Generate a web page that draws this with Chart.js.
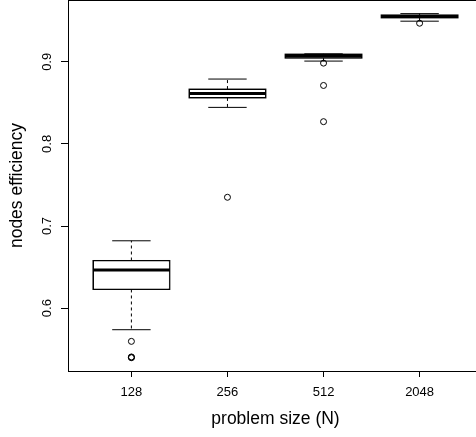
<!DOCTYPE html>
<html>
<head>
<meta charset="utf-8">
<script src="https://cdn.jsdelivr.net/npm/chart.js@4/dist/chart.umd.min.js"></script>
<style>
html,body{margin:0;padding:0;background:#fff;overflow:hidden;width:476px;height:437px;}
#wrap{position:absolute;left:0;top:0;width:490px;height:437px;}
</style>
</head>
<body>
<div id="wrap"><canvas id="c" width="490" height="437"></canvas></div>
<script>
// ---- data ----
const categories = ['128', '256', '512', '2048'];
const positions = [1, 2, 3, 4];
const whiskerLow = [0.5737, 0.8445, 0.9009, 0.9495];
const q1 = [0.6227, 0.8560, 0.9045, 0.9535];
const median = [0.6465, 0.8615, 0.9070, 0.9553];
const q3 = [0.6580, 0.8668, 0.9094, 0.9571];
const whiskerHigh = [0.6820, 0.8790, 0.9097, 0.9587];
const outliers = [
  [0.5595, 0.5405, 0.5400, 0.5396],
  [0.7350],
  [0.8984, 0.8712, 0.8271],
  [0.9470]
];
const yTicks = [0.6, 0.7, 0.8, 0.9];
const yRange = [0.5234, 0.9753];
const xRange = [0.34, 4.66];
const xTitle = 'problem size (N)';
const yTitle = 'nodes efficiency';

const boxData = positions.map((p, i) => ({x: p, y: [q1[i], q3[i]]}));
const outlierData = [];
outliers.forEach((arr, i) => arr.forEach(v => outlierData.push({x: positions[i], y: v})));

const boxPlugin = {
  id: 'boxParts',
  afterDatasetsDraw(chart) {
    const xs = chart.scales.x, ys = chart.scales.y;
    const meta = chart.getDatasetMeta(0);
    const ctx = chart.ctx;
    ctx.save();
    ctx.strokeStyle = '#000';
    positions.forEach((p, i) => {
      const x = xs.getPixelForValue(p);
      const bw = meta.data[i].width;
      const half = bw / 2, cap = bw / 4;
      const yLo = ys.getPixelForValue(whiskerLow[i]);
      const yHi = ys.getPixelForValue(whiskerHigh[i]);
      const yQ1 = ys.getPixelForValue(q1[i]);
      const yQ3 = ys.getPixelForValue(q3[i]);
      const yMed = ys.getPixelForValue(median[i]);
      // whiskers (dashed)
      ctx.lineWidth = 1;
      ctx.setLineDash([3, 3]);
      ctx.beginPath();
      ctx.moveTo(x, yQ1); ctx.lineTo(x, yLo);
      ctx.moveTo(x, yQ3); ctx.lineTo(x, yHi);
      ctx.stroke();
      ctx.setLineDash([]);
      // staples
      ctx.beginPath();
      ctx.moveTo(x - cap, yLo); ctx.lineTo(x + cap, yLo);
      ctx.moveTo(x - cap, yHi); ctx.lineTo(x + cap, yHi);
      ctx.stroke();
      // box border again on top
      ctx.strokeRect(x - half, yQ3, bw, yQ1 - yQ3);
      // median
      ctx.lineWidth = 3;
      ctx.beginPath();
      ctx.moveTo(x - half, yMed); ctx.lineTo(x + half, yMed);
      ctx.stroke();
    });
    // frame
    const a = chart.chartArea;
    ctx.lineWidth = 1;
    ctx.strokeRect(Math.round(a.left) + 0.5, Math.round(a.top) + 0.5, a.right - a.left, a.bottom - a.top);
    ctx.restore();
  }
};

const font = {family: "'Liberation Sans', Arial, sans-serif"};

new Chart(document.getElementById('c'), {
  type: 'bar',
  data: {
    datasets: [
      {
        type: 'bar',
        data: boxData,
        backgroundColor: '#ffffff',
        borderColor: '#000000',
        borderWidth: 1,
        borderSkipped: false,
        barPercentage: 1,
        categoryPercentage: 0.8
      },
      {
        type: 'scatter',
        data: outlierData,
        pointStyle: 'circle',
        pointRadius: 3,
        pointBorderWidth: 1,
        pointBorderColor: '#000000',
        pointBackgroundColor: 'rgba(0,0,0,0)'
      }
    ]
  },
  plugins: [boxPlugin],
  options: {
    responsive: false,
    animation: false,
    layout: {autoPadding: false, padding: {left: 0, right: 7, top: 0, bottom: 0}},
    plugins: {legend: {display: false}, tooltip: {enabled: false}},
    scales: {
      x: {
        type: 'linear',
        offset: false,
        min: xRange[0], max: xRange[1],
        afterBuildTicks: s => { s.ticks = positions.map(v => ({value: v})); },
        afterFit: s => { s.height = 66; s.paddingLeft = 0; s.paddingRight = 0; },
        ticks: {
          callback: (v) => categories[positions.indexOf(v)],
          color: '#000',
          font: {family: font.family, size: 13},
          padding: 8,
          maxRotation: 0, minRotation: 0
        },
        grid: {offset: false, drawOnChartArea: false, drawTicks: true, tickLength: 6, color: '#000', lineWidth: 1},
        border: {display: true, color: '#000', width: 1},
        title: {display: true, text: xTitle, color: '#000', font: {family: font.family, size: 17.5}, padding: {top: 0, bottom: 7}}
      },
      y: {
        type: 'linear',
        min: yRange[0], max: yRange[1],
        afterBuildTicks: s => { s.ticks = yTicks.map(v => ({value: v})); },
        afterFit: s => { s.width = 68; s.paddingTop = 0; s.paddingBottom = 0; },
        ticks: {
          callback: v => v.toFixed(1),
          color: '#000',
          font: {family: font.family, size: 13},
          padding: 5,
          minRotation: 90, maxRotation: 90,
          crossAlign: 'center'
        },
        grid: {drawOnChartArea: false, drawTicks: true, tickLength: 7, color: '#000', lineWidth: 1},
        border: {display: true, color: '#000', width: 1},
        title: {display: true, text: yTitle, color: '#000', font: {family: font.family, size: 17.5}, padding: {top: 7, bottom: 0}}
      }
    }
  }
});
</script>
</body>
</html>
